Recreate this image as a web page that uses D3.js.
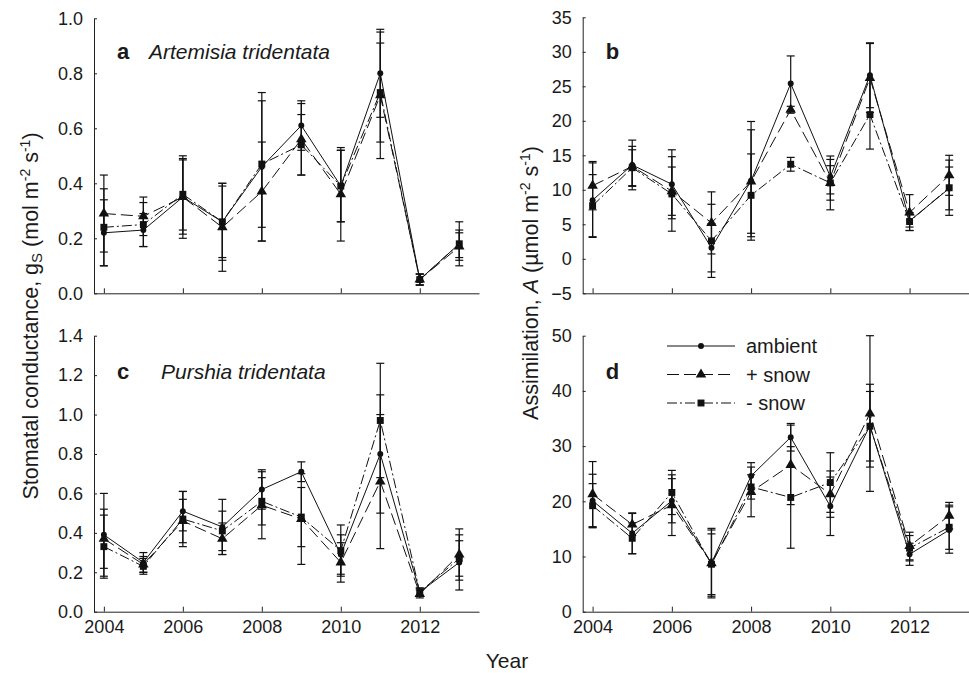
<!DOCTYPE html>
<html>
<head>
<meta charset="utf-8">
<script src="https://d3js.org/d3.v7.min.js"></script>
<style>
  body { margin: 0; background: #fff; }
  text { font-family: "Liberation Sans", Arial, sans-serif; fill: #1a1a1a; }
</style>
</head>
<body>
<div id="chart"></div>
<script>
// years on the x axis
var years = [2004, 2005, 2006, 2007, 2008, 2009, 2010, 2011, 2012, 2013];
var xTicks = [2004, 2006, 2008, 2010, 2012];

// panel a : Artemisia gs
var aAmb     = [0.22, 0.23, 0.35, 0.26, 0.46, 0.61, 0.39, 0.80, 0.05, 0.18];
var aAmbSe   = [0.12, 0.06, 0.135, 0.14, 0.27, 0.09, 0.13, 0.16, 0.02, 0.05];
var aPlus    = [0.29, 0.28, 0.35, 0.24, 0.37, 0.56, 0.36, 0.72, 0.05, 0.17];
var aPlusSe  = [0.14, 0.07, 0.15, 0.16, 0.18, 0.13, 0.17, 0.23, 0.02, 0.05];
var aMinus   = [0.24, 0.25, 0.36, 0.26, 0.47, 0.54, 0.39, 0.73, 0.05, 0.18];
var aMinusSe = [0.14, 0.08, 0.13, 0.13, 0.23, 0.11, 0.13, 0.18, 0.02, 0.08];

// panel b : Artemisia A
var bAmb     = [8.5, 13.6, 10.8, 1.6, 11.3, 25.4, 11.9, 26.6, 5.5, 10.2];
var bAmbSe   = [5.4, 3.6, 5.0, 3.5, 8.6, 4.0, 2.5, 4.7, 0.9, 3.1];
var bPlus    = [10.6, 13.4, 9.8, 5.2, 11.2, 21.6, 11.0, 26.2, 6.7, 12.1];
var bPlusSe  = [3.5, 2.9, 3.5, 4.5, 7.5, 0.5, 3.9, 5.0, 2.6, 2.9];
var bMinus   = [7.7, 13.2, 9.4, 2.6, 9.2, 13.7, 11.0, 20.9, 5.4, 10.3];
var bMinusSe = [4.5, 2.6, 5.4, 5.3, 6.0, 1.0, 2.5, 5.0, 1.3, 4.0];

// panel c : Purshia gs
var cAmb     = [0.39, 0.25, 0.51, 0.43, 0.62, 0.71, 0.29, 0.80, 0.10, 0.25];
var cAmbSe   = [0.21, 0.05, 0.10, 0.14, 0.10, 0.05, 0.10, 0.30, 0.02, 0.14];
var cPlus    = [0.37, 0.24, 0.46, 0.37, 0.54, 0.47, 0.25, 0.66, 0.09, 0.29];
var cPlusSe  = [0.15, 0.04, 0.11, 0.08, 0.17, 0.23, 0.10, 0.34, 0.02, 0.13];
var cMinus   = [0.33, 0.23, 0.47, 0.41, 0.56, 0.48, 0.31, 0.97, 0.10, 0.27];
var cMinusSe = [0.16, 0.04, 0.14, 0.10, 0.12, 0.15, 0.13, 0.29, 0.02, 0.09];

// panel d : Purshia A
var dAmb     = [20.1, 14.2, 20.1, 8.8, 24.6, 31.6, 19.1, 33.7, 10.4, 14.8];
var dAmbSe   = [4.8, 3.7, 4.0, 6.3, 2.4, 2.5, 5.3, 7.5, 2.0, 4.2];
var dPlus    = [21.3, 15.8, 19.3, 8.8, 21.7, 26.6, 21.3, 35.9, 11.9, 17.4];
var dPlusSe  = [5.9, 2.0, 5.5, 6.0, 4.5, 7.2, 4.2, 14.1, 2.5, 2.4];
var dMinus   = [19.2, 13.3, 21.6, 8.6, 22.6, 20.7, 23.4, 33.6, 11.5, 15.3];
var dMinusSe = [4.0, 2.8, 4.0, 5.5, 2.2, 9.2, 5.4, 6.3, 2.3, 4.0];

var legendNames = ["ambient", "+ snow", "- snow"];

var width = 969, height = 673;
var svg = d3.select("#chart").append("svg")
  .attr("width", width).attr("height", height);

var styles = [
  { dash: null,            sym: d3.symbolCircle,   size: 28 },
  { dash: "12,5",          sym: d3.symbolTriangle, size: 48 },
  { dash: "10,3,2,3",      sym: d3.symbolSquare,   size: 48 }
];

function panel(opts) {
  var x = d3.scaleLinear().domain([2003.75, 2013.5]).range([opts.x0, opts.x1]);
  var y = d3.scaleLinear().domain(opts.yDomain).range([opts.y0, opts.y1]);
  var g = svg.append("g");

  // y axis, ticks crossing the line
  var ya = g.append("g").attr("transform", "translate(" + opts.x0 + ",0)")
    .call(d3.axisLeft(y).tickValues(opts.yTicks).tickFormat(opts.fmt).tickSizeInner(3).tickSizeOuter(0).tickPadding(8));
  ya.select(".domain").attr("stroke", "#222");
  ya.selectAll(".tick line").attr("x2", 3).attr("stroke", "#222");
  ya.selectAll(".tick text").style("font-size", "18px").attr("fill", "#1a1a1a");

  // x axis, ticks inside
  var xa = g.append("g").attr("transform", "translate(0," + opts.y0 + ")")
    .call(d3.axisBottom(x).tickValues(xTicks).tickFormat(d3.format("d")).tickSizeInner(-5).tickSizeOuter(0).tickPadding(9));
  xa.select(".domain").attr("stroke", "#222");
  xa.selectAll(".tick line").attr("stroke", "#222");
  xa.selectAll(".tick text").style("font-size", "18px").attr("fill", "#1a1a1a")
    .style("display", opts.xLabels ? null : "none");

  // error bars
  opts.series.forEach(function(s) {
    var eb = g.append("g").attr("stroke", "#111").attr("stroke-width", 1.2);
    years.forEach(function(yr, i) {
      var lo = y(Math.max(opts.yDomain[0], s.v[i] - s.se[i]));
      var hi = y(Math.min(opts.yDomain[1], s.v[i] + s.se[i]));
      eb.append("line").attr("x1", x(yr)).attr("x2", x(yr)).attr("y1", lo).attr("y2", hi);
      eb.append("line").attr("x1", x(yr) - 4).attr("x2", x(yr) + 4).attr("y1", lo).attr("y2", lo);
      eb.append("line").attr("x1", x(yr) - 4).attr("x2", x(yr) + 4).attr("y1", hi).attr("y2", hi);
    });
  });

  // lines
  var line = d3.line().x(function(d, i) { return x(years[i]); }).y(function(d) { return y(d); });
  opts.series.forEach(function(s, k) {
    g.append("path").datum(s.v)
      .attr("d", line).attr("fill", "none").attr("stroke", "#111").attr("stroke-width", 1)
      .attr("stroke-dasharray", styles[k].dash);
  });

  // markers
  opts.series.forEach(function(s, k) {
    g.selectAll(null).data(s.v).enter().append("path")
      .attr("d", d3.symbol().type(styles[k].sym).size(styles[k].size))
      .attr("transform", function(d, i) { return "translate(" + x(years[i]) + "," + y(d) + ")"; })
      .attr("fill", "#111");
  });

  // panel letter and species
  g.append("text").attr("x", opts.x0 + 23).attr("y", opts.y1 + opts.labelDy)
    .style("font-size", "22px").style("font-weight", "bold").text(opts.letter);
  if (opts.species) {
    g.append("text").attr("x", opts.x0 + opts.speciesDx).attr("y", opts.y1 + opts.labelDy)
      .style("font-size", "21px").style("font-style", "italic").text(opts.species);
  }
  return { x: x, y: y };
}

var fmt1 = d3.format(".1f"), fmt0 = d3.format("d");

panel({ x0: 94, x1: 479, y0: 293.3, y1: 18.3, yDomain: [0, 1.0], yTicks: d3.range(0, 1.01, 0.2), fmt: fmt1,
  xLabels: false, letter: "a", species: "Artemisia tridentata", speciesDx: 55, labelDy: 41,
  series: [{ v: aAmb, se: aAmbSe }, { v: aPlus, se: aPlusSe }, { v: aMinus, se: aMinusSe }] });

panel({ x0: 582.7, x1: 969, y0: 293.3, y1: 17.3, yDomain: [-5, 35], yTicks: d3.range(-5, 36, 5), fmt: fmt0,
  xLabels: false, letter: "b", labelDy: 42,
  series: [{ v: bAmb, se: bAmbSe }, { v: bPlus, se: bPlusSe }, { v: bMinus, se: bMinusSe }] });

panel({ x0: 94, x1: 479, y0: 611.7, y1: 335.7, yDomain: [0, 1.4], yTicks: d3.range(0, 1.41, 0.2), fmt: fmt1,
  xLabels: true, letter: "c", species: "Purshia tridentata", speciesDx: 67, labelDy: 43,
  series: [{ v: cAmb, se: cAmbSe }, { v: cPlus, se: cPlusSe }, { v: cMinus, se: cMinusSe }] });

panel({ x0: 582.7, x1: 969, y0: 611.7, y1: 335.7, yDomain: [0, 50], yTicks: d3.range(0, 51, 10), fmt: fmt0,
  xLabels: true, letter: "d", labelDy: 43,
  series: [{ v: dAmb, se: dAmbSe }, { v: dPlus, se: dPlusSe }, { v: dMinus, se: dMinusSe }] });

// legend in panel d
var leg = svg.append("g").attr("transform", "translate(667,346)");
legendNames.forEach(function(name, k) {
  var row = leg.append("g").attr("transform", "translate(0," + (k * 28.5) + ")");
  row.append("line").attr("x1", 0).attr("x2", 68).attr("stroke", "#111").attr("stroke-width", 1)
    .attr("stroke-dasharray", styles[k].dash);
  row.append("path").attr("d", d3.symbol().type(styles[k].sym).size(styles[k].size))
    .attr("transform", "translate(34,0)").attr("fill", "#111");
  row.append("text").attr("x", 79).attr("y", 7).style("font-size", "20px").text(name);
});

// axis titles
var yl = svg.append("text").attr("transform", "translate(38,316) rotate(-90)")
  .attr("text-anchor", "middle").style("font-size", "21.5px");
yl.append("tspan").text("Stomatal conductance, g");
yl.append("tspan").attr("baseline-shift", "-25%").style("font-size", "15px").text("S");
yl.append("tspan").text(" (mol m");
yl.append("tspan").attr("baseline-shift", "super").style("font-size", "14px").text("-2");
yl.append("tspan").text(" s");
yl.append("tspan").attr("baseline-shift", "super").style("font-size", "14px").text("-1");
yl.append("tspan").text(")");

var yr = svg.append("text").attr("transform", "translate(538,283) rotate(-90)")
  .attr("text-anchor", "middle").style("font-size", "21.5px");
yr.append("tspan").text("Assimilation, ");
yr.append("tspan").style("font-style", "italic").text("A");
yr.append("tspan").text(" (\u00b5mol m");
yr.append("tspan").attr("baseline-shift", "super").style("font-size", "14px").text("-2");
yr.append("tspan").text(" s");
yr.append("tspan").attr("baseline-shift", "super").style("font-size", "14px").text("-1");
yr.append("tspan").text(")");

svg.append("text").attr("x", 507).attr("y", 668).attr("text-anchor", "middle")
  .style("font-size", "21px").text("Year");
</script>
</body>
</html>
